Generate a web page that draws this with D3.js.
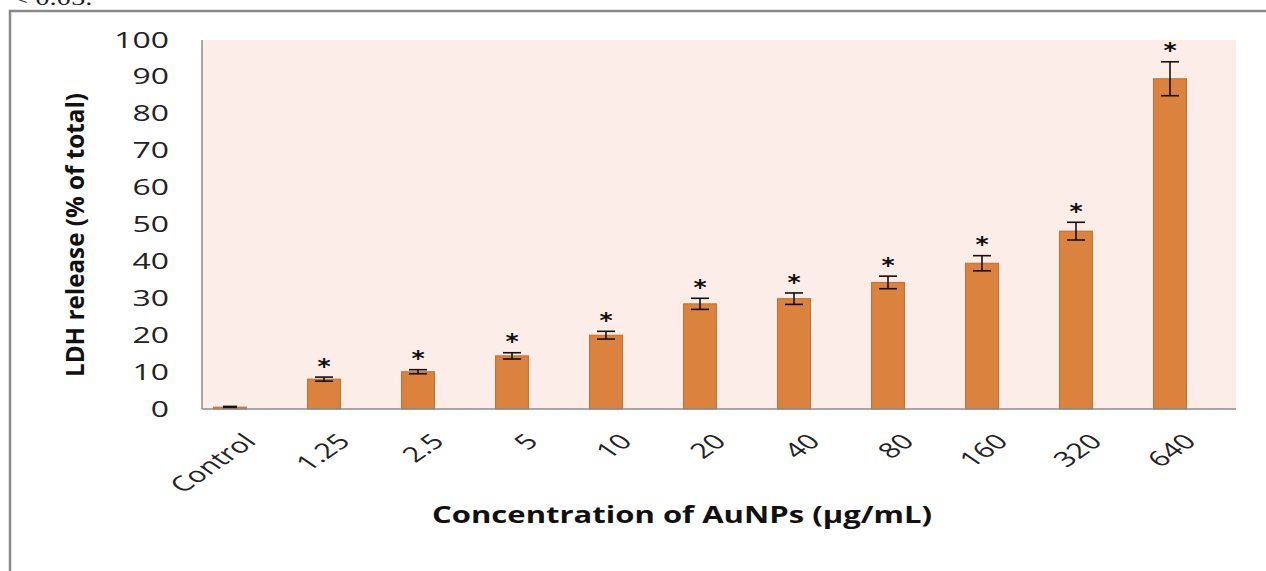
<!DOCTYPE html>
<html>
<head>
<meta charset="utf-8">
<script src="https://cdn.jsdelivr.net/npm/d3@7"></script>
<style>
  html, body { margin: 0; padding: 0; background: #fff; }
  svg { display: block; }
</style>
</head>
<body>
<svg id="chart" width="1266" height="571"></svg>
<script>
const categories = ["Control", "1.25", "2.5", "5", "10", "20", "40", "80", "160", "320", "640"];
const values = [0.5, 8.1, 10.1, 14.4, 20.0, 28.5, 29.9, 34.3, 39.5, 48.2, 89.5];
const errors = [0.2, 0.55, 0.55, 0.85, 1.05, 1.5, 1.55, 1.7, 2.05, 2.4, 4.6];
const significant = [false, true, true, true, true, true, true, true, true, true, true];
const yTicks = [0, 10, 20, 30, 40, 50, 60, 70, 80, 90, 100];
const yTitle = "LDH release  (% of total)";
const xTitle = "Concentration of AuNPs (µg/mL)";

const stretch = 1.45; // the reference figure is stretched horizontally

const svg = d3.select("#chart");

// Frame and cut-off caption
svg.append("text").attr("transform", "translate(12,5) scale(1.3,1)")
  .attr("font-family", "Liberation Serif").attr("font-size", 22).attr("fill", "#222")
  .text("< 0.05.");
svg.append("rect").attr("x", 10).attr("y", 11).attr("width", 1300).attr("height", 600)
  .attr("fill", "none").attr("stroke", "#8a8a8a").attr("stroke-width", 2.5);

const plotLeft = 202, plotRight = 1236, plotTop = 40, plotBottom = 409;

const x = d3.scaleBand().domain(categories).range([183, 1217]).paddingInner(0.65).paddingOuter(0.325);
const y = d3.scaleLinear().domain([0, 100]).range([plotBottom, plotTop]);

svg.append("rect").attr("x", plotLeft).attr("y", plotTop)
  .attr("width", plotRight - plotLeft).attr("height", plotBottom - plotTop)
  .attr("fill", "#fcede8");

const idx = d3.range(categories.length);

// Bars
svg.append("g").selectAll("rect").data(idx).join("rect")
  .attr("x", i => x(categories[i]))
  .attr("width", x.bandwidth())
  .attr("y", i => y(values[i]))
  .attr("height", i => y(0) - y(values[i]))
  .attr("fill", "#db823e")
  .attr("stroke", "#c0702f")
  .attr("stroke-width", 1);

// Error bars
const eb = svg.append("g").attr("stroke", "#111").attr("stroke-width", 1.6);
idx.forEach(i => {
  const v = values[i];
  const cx = x(categories[i]) + x.bandwidth() / 2;
  const hw = i === 0 ? 7 : 9;
  eb.append("line").attr("x1", cx).attr("x2", cx).attr("y1", y(v + errors[i])).attr("y2", y(v - errors[i]));
  eb.append("line").attr("x1", cx - hw).attr("x2", cx + hw).attr("y1", y(v + errors[i])).attr("y2", y(v + errors[i]));
  eb.append("line").attr("x1", cx - hw).attr("x2", cx + hw).attr("y1", y(v - errors[i])).attr("y2", y(v - errors[i]));
});

// Asterisks
svg.append("g").selectAll("text").data(idx.filter(i => significant[i])).join("text")
  .attr("transform", i => `translate(${x(categories[i]) + x.bandwidth() / 2},${y(values[i] + errors[i]) - 15}) scale(1.2,1)`)
  .attr("dy", "0.55em")
  .attr("text-anchor", "middle")
  .attr("font-family", "DejaVu Sans")
  .attr("font-weight", "bold")
  .attr("font-size", 21)
  .attr("fill", "#111")
  .text("*");

// Axes
const yAxis = d3.axisLeft(y).tickValues(yTicks).tickSize(0).tickPadding(0);
const gy = svg.append("g").attr("transform", `translate(${plotLeft},0)`).call(yAxis);
gy.select(".domain").remove();
gy.selectAll("text")
  .attr("x", 0)
  .attr("transform", `translate(-33,0) scale(${stretch},1)`)
  .attr("font-family", "Open Sans").attr("font-size", 22).attr("fill", "#222");
svg.append("line").attr("x1", plotLeft).attr("x2", plotLeft).attr("y1", plotTop).attr("y2", plotBottom)
  .attr("stroke", "#8c8c8c").attr("stroke-width", 1.5);

const xAxis = d3.axisBottom(x).tickSize(0).tickPadding(0);
const gx = svg.append("g").attr("transform", `translate(0,${plotBottom})`).call(xAxis);
gx.select(".domain").remove();
gx.selectAll("text")
  .attr("y", 0)
  .attr("font-family", "Open Sans").attr("font-size", 21).attr("fill", "#222")
  .attr("text-anchor", "end")
  .attr("dy", "0.72em")
  .attr("transform", `translate(12,23) scale(${stretch},1) rotate(-45)`);
svg.append("line").attr("x1", plotLeft).attr("x2", plotRight).attr("y1", plotBottom).attr("y2", plotBottom)
  .attr("stroke", "#8c8c8c").attr("stroke-width", 1.5);

// Titles
svg.append("text").attr("x", 682).attr("y", 523)
  .attr("text-anchor", "middle").attr("font-family", "Open Sans").attr("font-weight", "bold")
  .attr("font-size", 23).attr("fill", "#111")
  .attr("textLength", 500).attr("lengthAdjust", "spacingAndGlyphs")
  .text(xTitle);
svg.append("text").attr("transform", `translate(84,235) scale(${stretch},1) rotate(-90)`)
  .attr("text-anchor", "middle").attr("font-family", "Open Sans").attr("font-weight", "bold")
  .attr("font-size", 17).attr("fill", "#111")
  .attr("textLength", 284).attr("lengthAdjust", "spacingAndGlyphs")
  .text(yTitle);
</script>
</body>
</html>
